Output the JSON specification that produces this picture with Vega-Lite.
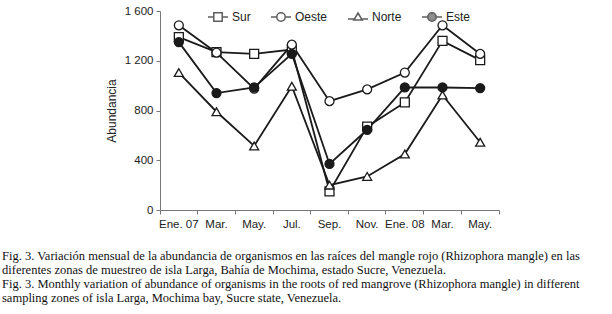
{
  "$schema": "https://vega.github.io/schema/vega-lite/v6.json",
  "width": 339,
  "height": 199,
  "autosize": {"type": "none"},
  "padding": {"left": 160, "top": 11, "right": 113, "bottom": 104},
  "background": "white",
  "config": {"view": {"stroke": null}},
  "title": {
    "text": [
      "Fig. 3. Variación mensual de la abundancia de organismos en las raíces del mangle rojo (Rhizophora mangle) en las",
      "diferentes zonas de muestreo de isla Larga, Bahía de Mochima, estado Sucre, Venezuela.",
      "Fig. 3. Monthly variation of abundance of organisms in the roots of red mangrove (Rhizophora mangle) in different",
      "sampling zones of isla Larga, Mochima bay, Sucre state, Venezuela."
    ],
    "orient": "bottom",
    "anchor": "start",
    "frame": "group",
    "dx": -158,
    "offset": 20,
    "font": "Liberation Serif",
    "fontSize": 12.5,
    "fontWeight": "normal",
    "lineHeight": 14,
    "color": "#111"
  },
  "data": {
    "values": [
      {"zona": "Sur", "mes": "Ene. 07", "valor": 1390},
      {"zona": "Sur", "mes": "Mar.", "valor": 1270},
      {"zona": "Sur", "mes": "May.", "valor": 1255},
      {"zona": "Sur", "mes": "Jul.", "valor": 1290},
      {"zona": "Sur", "mes": "Sep.", "valor": 150},
      {"zona": "Sur", "mes": "Nov.", "valor": 670},
      {"zona": "Sur", "mes": "Ene. 08", "valor": 865},
      {"zona": "Sur", "mes": "Mar. ", "valor": 1360},
      {"zona": "Sur", "mes": "May. ", "valor": 1205},
      {"zona": "Oeste", "mes": "Ene. 07", "valor": 1485},
      {"zona": "Oeste", "mes": "Mar.", "valor": 1265},
      {"zona": "Oeste", "mes": "May.", "valor": 975},
      {"zona": "Oeste", "mes": "Jul.", "valor": 1330},
      {"zona": "Oeste", "mes": "Sep.", "valor": 875},
      {"zona": "Oeste", "mes": "Nov.", "valor": 970},
      {"zona": "Oeste", "mes": "Ene. 08", "valor": 1105},
      {"zona": "Oeste", "mes": "Mar. ", "valor": 1485},
      {"zona": "Oeste", "mes": "May. ", "valor": 1255},
      {"zona": "Norte", "mes": "Ene. 07", "valor": 1105},
      {"zona": "Norte", "mes": "Mar.", "valor": 790},
      {"zona": "Norte", "mes": "May.", "valor": 515},
      {"zona": "Norte", "mes": "Jul.", "valor": 995},
      {"zona": "Norte", "mes": "Sep.", "valor": 200},
      {"zona": "Norte", "mes": "Nov.", "valor": 270},
      {"zona": "Norte", "mes": "Ene. 08", "valor": 450},
      {"zona": "Norte", "mes": "Mar. ", "valor": 925},
      {"zona": "Norte", "mes": "May. ", "valor": 545},
      {"zona": "Este", "mes": "Ene. 07", "valor": 1350},
      {"zona": "Este", "mes": "Mar.", "valor": 940},
      {"zona": "Este", "mes": "May.", "valor": 985},
      {"zona": "Este", "mes": "Jul.", "valor": 1255},
      {"zona": "Este", "mes": "Sep.", "valor": 370},
      {"zona": "Este", "mes": "Nov.", "valor": 645},
      {"zona": "Este", "mes": "Ene. 08", "valor": 985},
      {"zona": "Este", "mes": "Mar. ", "valor": 985},
      {"zona": "Este", "mes": "May. ", "valor": 980}
    ]
  },
  "encoding": {
    "x": {
      "field": "mes",
      "type": "nominal",
      "bandPosition": 0.5,
      "sort": ["Ene. 07", "Mar.", "May.", "Jul.", "Sep.", "Nov.", "Ene. 08", "Mar. ", "May. "],
      "scale": {"type": "band", "paddingInner": 0, "paddingOuter": 0},
      "axis": {
        "title": null,
        "labelAngle": 0,
        "bandPosition": 1,
        "tickExtra": true,
        "tickSize": 4,
        "labelPadding": 4,
        "labelFont": "Liberation Sans",
        "labelFontSize": 11.5,
        "labelColor": "#222",
        "domainColor": "#777",
        "tickColor": "#777",
        "grid": false
      }
    },
    "y": {
      "field": "valor",
      "type": "quantitative",
      "scale": {"domain": [0, 1600], "nice": false, "zero": true},
      "axis": {
        "title": "Abundancia",
        "values": [0, 400, 800, 1200, 1600],
        "labelExpr": "replace(format(datum.value, ','), ',', ' ')",
        "tickSize": 4,
        "labelPadding": 3,
        "labelFont": "Liberation Sans",
        "labelFontSize": 11.5,
        "labelColor": "#222",
        "titleFont": "Liberation Sans",
        "titleFontSize": 12,
        "titleFontWeight": "normal",
        "titleColor": "#222",
        "titlePadding": 6,
        "domainColor": "#777",
        "tickColor": "#777",
        "grid": false
      }
    }
  },
  "layer": [
    {
      "mark": {"type": "line", "stroke": "#1a1a1a", "strokeWidth": 1.8},
      "encoding": {"detail": {"field": "zona", "type": "nominal"}}
    },
    {
      "mark": {"type": "point", "filled": false, "color": "#1a1a1a", "strokeWidth": 1.3, "size": 80, "opacity": 1},
      "encoding": {
        "shape": {
          "field": "zona",
          "type": "nominal",
          "scale": {"domain": ["Sur", "Oeste", "Norte", "Este"], "range": ["square", "circle", "triangle-up", "circle"]},
          "legend": null
        },
        "fill": {
          "field": "zona",
          "type": "nominal",
          "scale": {"domain": ["Sur", "Oeste", "Norte", "Este"], "range": ["white", "white", "white", "#1a1a1a"]},
          "legend": null
        }
      }
    },
    {
      "transform": [{"filter": "datum.valor < 0"}],
      "mark": {"type": "point", "filled": false, "color": "#1a1a1a", "strokeWidth": 1.5},
      "encoding": {
        "shape": {
          "field": "zona",
          "type": "nominal",
          "scale": {
            "domain": ["Sur", "Oeste", "Norte", "Este"],
            "range": [
              "M-1,0H-0.42M0.42,0H1M-0.42,-0.42H0.42V0.42H-0.42Z",
              "M-1,0H-0.42M0.42,0H1M-0.42,0A0.42,0.42,0,1,0,0.42,0A0.42,0.42,0,1,0,-0.42,0Z",
              "M-1,0.2H-0.36M0.36,0.2H1M0,-0.4L0.42,0.3H-0.42Z",
              "M-1,0H-0.42M0.42,0H1M-0.42,0A0.42,0.42,0,1,0,0.42,0A0.42,0.42,0,1,0,-0.42,0Z"
            ]
          },
          "legend": {
            "title": null,
            "orient": "none",
            "legendX": 47,
            "legendY": -5,
            "direction": "horizontal",
            "gridAlign": "none",
            "padding": 0,
            "columnPadding": 17,
            "symbolSize": 400,
            "labelFont": "Liberation Sans",
            "labelFontSize": 12,
            "labelColor": "#222",
            "labelOffset": 3,
            "encode": {"symbols": {"stroke": {"value": "#1a1a1a"}, "strokeWidth": {"value": 1.5}, "opacity": {"value": 1}, "fillOpacity": {"value": 1}, "strokeOpacity": {"value": 1}}}
          }
        },
        "fill": {
          "field": "zona",
          "type": "nominal",
          "scale": {"domain": ["Sur", "Oeste", "Norte", "Este"], "range": ["white", "white", "white", "#1a1a1a"]},
          "legend": {
            "title": null,
            "orient": "none",
            "legendX": 47,
            "legendY": -5,
            "direction": "horizontal",
            "gridAlign": "none",
            "padding": 0,
            "columnPadding": 17,
            "symbolSize": 400,
            "labelFont": "Liberation Sans",
            "labelFontSize": 12,
            "labelColor": "#222",
            "labelOffset": 3,
            "encode": {"symbols": {"stroke": {"value": "#1a1a1a"}, "strokeWidth": {"value": 1.5}, "opacity": {"value": 1}, "fillOpacity": {"value": 1}, "strokeOpacity": {"value": 1}}}
          }
        }
      }
    }
  ],
  "resolve": {"scale": {"shape": "independent", "fill": "independent"}}
}
